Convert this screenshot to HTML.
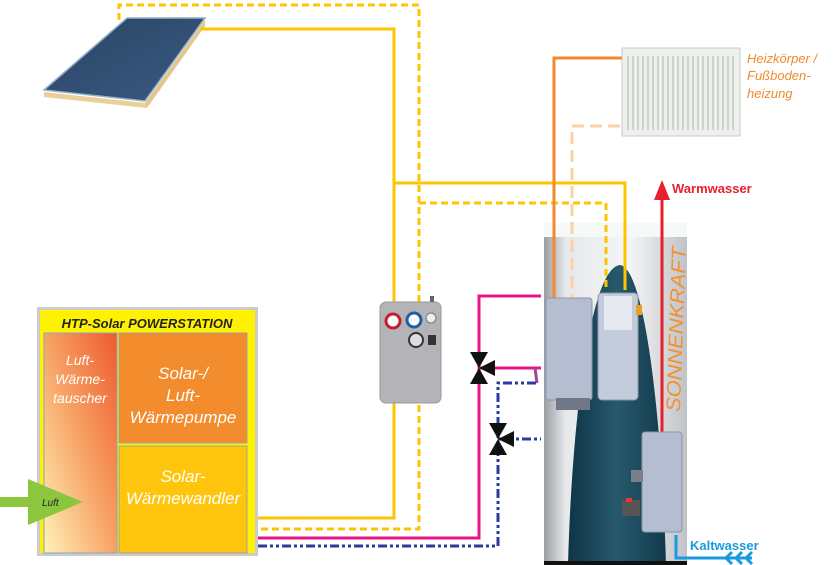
<!DOCTYPE html>
<html><head><meta charset="utf-8"><style>
html,body{margin:0;padding:0;background:#fff;}
svg{display:block;}
text{font-family:"Liberation Sans",sans-serif;}
</style></head><body>
<svg width="840" height="565" viewBox="0 0 840 565" xmlns="http://www.w3.org/2000/svg">
<defs>
<linearGradient id="lw" x1="1" y1="0" x2="0" y2="1">
<stop offset="0" stop-color="#ef5a2e"/><stop offset="0.5" stop-color="#f7a366"/><stop offset="1" stop-color="#fff2b8"/></linearGradient>
<linearGradient id="tank" x1="0" y1="0" x2="1" y2="0">
<stop offset="0" stop-color="#9a9ea2"/><stop offset="0.15" stop-color="#e6e8ea"/><stop offset="0.6" stop-color="#f4f5f6"/><stop offset="1" stop-color="#bfc3c7"/></linearGradient>
<linearGradient id="dark" x1="0" y1="0" x2="1" y2="0">
<stop offset="0" stop-color="#0f3447"/><stop offset="0.5" stop-color="#27596d"/><stop offset="1" stop-color="#123a4c"/></linearGradient>
<linearGradient id="panel" x1="0" y1="0" x2="1" y2="1">
<stop offset="0" stop-color="#2a4466"/><stop offset="1" stop-color="#3a5a80"/></linearGradient>
</defs>

<!-- solar panel -->
<polygon points="44,92 145,103 147,108 44,97" fill="#e9cf98"/>
<polygon points="145,103 205,20 205,26 147,108" fill="#e3c58d"/>
<polygon points="127,18 205,18 145,101 44,90" fill="url(#panel)" stroke="#8fb0c8" stroke-width="1.5"/>

<!-- radiator -->
<rect x="622" y="48" width="118" height="88" fill="#eef0ee" stroke="#c9cdc9"/>
<g stroke="#b8bdb8" stroke-width="1.2">
<line x1="628" y1="56" x2="628" y2="130"/><line x1="633" y1="56" x2="633" y2="130"/><line x1="638" y1="56" x2="638" y2="130"/><line x1="643" y1="56" x2="643" y2="130"/><line x1="648" y1="56" x2="648" y2="130"/><line x1="653" y1="56" x2="653" y2="130"/><line x1="658" y1="56" x2="658" y2="130"/><line x1="663" y1="56" x2="663" y2="130"/><line x1="668" y1="56" x2="668" y2="130"/><line x1="673" y1="56" x2="673" y2="130"/><line x1="678" y1="56" x2="678" y2="130"/><line x1="683" y1="56" x2="683" y2="130"/><line x1="688" y1="56" x2="688" y2="130"/><line x1="693" y1="56" x2="693" y2="130"/><line x1="698" y1="56" x2="698" y2="130"/><line x1="703" y1="56" x2="703" y2="130"/><line x1="708" y1="56" x2="708" y2="130"/><line x1="713" y1="56" x2="713" y2="130"/><line x1="718" y1="56" x2="718" y2="130"/><line x1="723" y1="56" x2="723" y2="130"/><line x1="728" y1="56" x2="728" y2="130"/><line x1="733" y1="56" x2="733" y2="130"/>
</g>
<text x="747" y="63" font-size="13" font-style="italic" fill="#f08a2c">Heizkörper /</text>
<text x="747" y="80" font-size="13" font-style="italic" fill="#f08a2c">Fußboden-</text>
<text x="747" y="98" font-size="13" font-style="italic" fill="#f08a2c">heizung</text>

<!-- tank -->
<rect x="544" y="223" width="143" height="342" fill="url(#tank)"/>
<rect x="544" y="223" width="143" height="14" fill="#f7f8f8"/>
<path d="M568,565 C572,420 590,268 620,265 C645,268 662,420 666,565 Z" fill="url(#dark)"/>
<rect x="544" y="561" width="143" height="4" fill="#111"/>
<text transform="translate(680,412) rotate(-88)" font-size="20" font-style="italic" fill="#f5902f" textLength="165" lengthAdjust="spacingAndGlyphs">SONNENKRAFT</text>

<!-- pipes -->
<g fill="none" stroke-width="3">
<polyline points="200,29 394,29 394,518 258,518" stroke="#ffc400"/>
<polyline points="394,183 625,183 625,290" stroke="#ffc400"/>
<polyline points="119,20 119,5 419,5 419,529 258,529" stroke="#ffc400" stroke-dasharray="7,4"/>
<polyline points="419,203 606,203 606,290" stroke="#ffc400" stroke-dasharray="7,4"/>
<polyline points="622,58 554,58 554,300" stroke="#f08a2c"/>
<polyline points="620,126 572,126 572,300" stroke="#fbd0a6" stroke-dasharray="12,6"/>
<polyline points="258,538 479,538 479,296 541,296" stroke="#e8158a"/>
<polyline points="479,368 541,368" stroke="#e8158a"/>
<polyline points="535,368 537,383" stroke="#a04592"/>
<polyline points="258,546 498,546 498,383 537,383" stroke="#2a3aa0" stroke-dasharray="9,3,3,3,3,3"/>
<polyline points="498,439 541,439" stroke="#2a3aa0" stroke-dasharray="9,3,3,3,3,3"/>
<polyline points="662,432 662,195" stroke="#e8202e"/>
<polyline points="676,535 676,558 752,558" stroke="#1a9ae0"/>
</g>
<polygon points="662,180 654,200 670,200" fill="#e8202e"/>
<text x="672" y="193" font-size="13" font-weight="bold" fill="#e8202e">Warmwasser</text>
<text x="690" y="550" font-size="13" font-weight="bold" fill="#1a9ae0">Kaltwasser</text>
<g fill="none" stroke="#1a9ae0" stroke-width="3"><polyline points="732,552 726,558 732,564"/><polyline points="742,552 736,558 742,564"/><polyline points="752,552 746,558 752,564"/></g>

<!-- tank units -->
<rect x="546" y="298" width="46" height="102" rx="3" fill="#b5bdd0" stroke="#8d95a8"/>
<rect x="556" y="398" width="34" height="12" fill="#6f7788"/>
<rect x="598" y="293" width="40" height="107" rx="4" fill="#c4cbdc" stroke="#8d95a8"/>
<rect x="604" y="296" width="28" height="34" fill="#e6e9f0"/>
<rect x="636" y="305" width="6" height="10" fill="#e8a020"/>
<rect x="642" y="432" width="40" height="100" rx="3" fill="#b5bdd0" stroke="#8d95a8"/>
<rect x="631" y="470" width="12" height="12" fill="#7a7f88"/>
<rect x="622" y="500" width="18" height="16" fill="#555"/>
<rect x="626" y="498" width="6" height="4" fill="#e33"/>

<!-- pump station -->
<rect x="380" y="302" width="61" height="101" rx="6" fill="#b4b4b8" stroke="#999"/>
<circle cx="393" cy="321" r="7" fill="#fff" stroke="#c3202b" stroke-width="3"/>
<circle cx="414" cy="320" r="7" fill="#fff" stroke="#1f5fa8" stroke-width="3"/>
<circle cx="431" cy="318" r="5" fill="#eee" stroke="#777"/>
<circle cx="416" cy="340" r="7" fill="#ddd" stroke="#333" stroke-width="2"/>
<rect x="428" y="335" width="8" height="10" fill="#333"/>
<rect x="430" y="296" width="4" height="6" fill="#666"/>

<!-- valves -->
<g fill="#111">
<polygon points="470,352 488,352 479,368"/><polygon points="470,384 488,384 479,368"/><polygon points="479,368 495,360 495,376"/>
<polygon points="489,423 507,423 498,439"/><polygon points="489,455 507,455 498,439"/><polygon points="498,439 514,431 514,447"/>
</g>

<!-- powerstation -->
<rect x="37" y="307" width="221" height="249" fill="#ccc"/>
<rect x="40" y="310" width="215" height="243" fill="#fff200"/>
<text x="147" y="328" font-size="13" font-weight="bold" font-style="italic" fill="#222" text-anchor="middle">HTP-Solar POWERSTATION</text>
<rect x="44" y="333" width="73" height="220" fill="url(#lw)" stroke="#8da0c0"/>
<rect x="119" y="333" width="128" height="110" fill="#f28c2c" stroke="#9aa0a8"/>
<rect x="119" y="446" width="128" height="107" fill="#ffc50c" stroke="#9aa0a8"/>
<g font-style="italic" fill="#fff" text-anchor="middle">
<text x="80" y="365" font-size="14">Luft-</text>
<text x="80" y="384" font-size="14">Wärme-</text>
<text x="80" y="403" font-size="14">tauscher</text>
<text x="183" y="379" font-size="17">Solar-/</text>
<text x="183" y="401" font-size="17">Luft-</text>
<text x="183" y="423" font-size="17">Wärmepumpe</text>
<text x="183" y="482" font-size="17">Solar-</text>
<text x="183" y="504" font-size="17">Wärmewandler</text>
</g>
<rect x="0" y="497" width="32" height="10" fill="#8cc63f"/>
<polygon points="28,479 83,502 28,525" fill="#8cc63f"/>
<text x="42" y="506" font-size="10" font-style="italic" fill="#222">Luft</text>
</svg>
</body></html>
